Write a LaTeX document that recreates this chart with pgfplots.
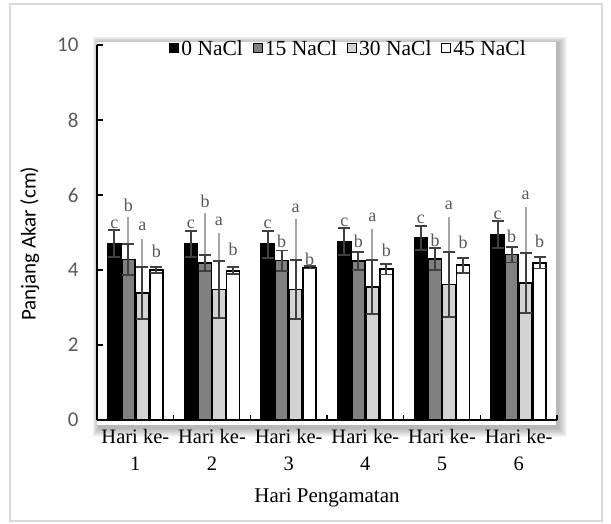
\documentclass[border=0pt]{standalone}
\usepackage{fontspec}
\setmainfont{Liberation Serif}
\newfontfamily\carlito{Carlito}
\usepackage{pgfplots}
\pgfplotsset{compat=1.18}

\definecolor{tickgray}{HTML}{595959}
\definecolor{barmid}{HTML}{808080}
\definecolor{barlight}{HTML}{D3D3D3}
\definecolor{errdark}{HTML}{404040}
\definecolor{errlight}{HTML}{A6A6A6}
\definecolor{framegray}{HTML}{D9D9D9}

% bars sit at day +- 0.274 and +- 0.091 (21pt and 7pt at 76.67pt per day)
\pgfplotsset{
  sqlegend/.style={legend image code/.code={\draw[##1, line width=1pt] (0pt,-4pt) rectangle (9pt,5pt);}},
  bar/.style={ybar, bar width=13pt, bar shift=0pt, draw=black, line width=1.6pt, fill=#1, sqlegend,
    error bars/.cd, y dir=both, y explicit,
    error bar style={errdark, line width=1.8pt},
    error mark options={errdark, line width=1.8pt, mark size=6pt, rotate=90}},
  longerr/.style={forget plot, ybar, bar width=13pt, bar shift=0pt, draw=none, fill=none,
    error bars/.cd, y dir=plus, y explicit, error mark=none,
    error bar style={errlight, line width=1.8pt}},
  letters/.style={forget plot, draw=none, mark=none, nodes near coords, point meta=explicit symbolic,
    every node near coord/.append style={anchor=center, text=tickgray,
      font=\fontsize{18}{18}\selectfont}},
}

\begin{document}
\begin{tikzpicture}
% shadow behind the plot area
\foreach \k in {1,...,9}{
  \fill[black, opacity=0.035] ({2pt-\k*0.7pt},{-8pt-\k*1pt}) rectangle ({461pt+\k*1pt},{377pt+\k*0.7pt});
}
\fill[white] (0pt,-5pt) rectangle (459pt,378pt);
\draw[framegray, line width=1.2pt] (-87pt,-101pt) rectangle (505pt,416pt);

\begin{axis}[
  at={(0pt,0pt)}, anchor=south west,
  scale only axis, width=460pt, height=375pt,
  xmin=0.5, xmax=6.5, ymin=0, ymax=10,
  axis x line*=bottom, axis y line*=left,
  axis line style={-, line width=1.6pt},
  ytick={0,2,4,6,8,10},
  ytick style={line width=1.5pt, black},
  major tick length=6pt,
  tick align=inside,
  xtick={1,2,3,4,5,6},
  xticklabels={Hari ke-\\1, Hari ke-\\2, Hari ke-\\3, Hari ke-\\4, Hari ke-\\5, Hari ke-\\6},
  major x tick style={draw=none},
  minor xtick={0.5,1.5,2.5,3.5,4.5,5.5,6.5},
  minor x tick style={line width=1.5pt, black},
  minor tick length=5pt,
  xticklabel style={align=center, font=\fontsize{20.5}{27}\selectfont, yshift=-6pt},
  yticklabel style={font=\carlito\fontsize{21}{21}\selectfont, text=tickgray, xshift=-15pt},
  /pgf/number format/assume math mode=true,
  xlabel={Hari Pengamatan},
  ylabel={Panjang Akar (cm)},
  x label style={at={(axis description cs:0.5,-0.208)}, anchor=center, font=\fontsize{21}{21}\selectfont},
  y label style={at={(axis description cs:-0.146,0.47)}, anchor=center, font=\carlito\fontsize{21}{21}\selectfont},
  legend style={draw=none, fill=none, at={(0.547,0.99)}, anchor=center,
    font=\fontsize{21.5}{21.5}\selectfont, legend columns=4,
    /tikz/every even column/.append style={column sep=8pt}},
  legend cell align=left,
  clip=false,
]

% 0 NaCl
\addplot[bar=black]
  coordinates {(0.726,4.71) +- (0,0.36) (1.726,4.69) +- (0,0.35) (2.726,4.69) +- (0,0.36)
               (3.726,4.76) +- (0,0.37) (4.726,4.86) +- (0,0.32) (5.726,4.95) +- (0,0.36)};
\addlegendentry{0 NaCl}

% 15 NaCl
\addplot[longerr]
  coordinates {(0.909,4.28) +- (0,1.14) (1.909,4.19) +- (0,1.32)};
\addplot[bar=barmid]
  coordinates {(0.909,4.28) +- (0,0.41) (1.909,4.19) +- (0,0.22) (2.909,4.25) +- (0,0.27)
               (3.909,4.24) +- (0,0.24) (4.909,4.29) +- (0,0.29) (5.909,4.41) +- (0,0.21)};
\addlegendentry{15 NaCl}

% 30 NaCl
\addplot[longerr]
  coordinates {(1.091,3.38) +- (0,1.44) (2.091,3.48) +- (0,1.50) (3.091,3.48) +- (0,1.87)
               (4.091,3.54) +- (0,1.55) (5.091,3.61) +- (0,1.81) (6.091,3.66) +- (0,2.03)};
\addplot[bar=barlight]
  coordinates {(1.091,3.38) +- (0,0.69) (2.091,3.48) +- (0,0.75) (3.091,3.48) +- (0,0.78)
               (4.091,3.54) +- (0,0.72) (5.091,3.61) +- (0,0.86) (6.091,3.66) +- (0,0.80)};
\addlegendentry{30 NaCl}

% 45 NaCl
\addplot[bar=white]
  coordinates {(1.274,4.00) +- (0,0.07) (2.274,3.98) +- (0,0.09) (3.274,4.07) +- (0,0.03)
               (4.274,4.02) +- (0,0.14) (5.274,4.13) +- (0,0.20) (6.274,4.19) +- (0,0.15)};
\addlegendentry{45 NaCl}

% significance letters
\addplot[letters] coordinates {(0.726,5.22) [c] (1.726,5.22) [c] (2.726,5.22) [c] (3.726,5.26) [c] (4.726,5.36) [c] (5.726,5.45) [c]};
\addplot[letters] coordinates {(0.909,5.73) [b] (1.909,5.82) [b] (2.909,4.76) [b] (3.909,4.76) [b] (4.909,4.80) [b] (5.909,4.91) [b]};
\addplot[letters] coordinates {(1.091,5.16) [a] (2.091,5.29) [a] (3.091,5.64) [a] (4.091,5.41) [a] (5.091,5.73) [a] (6.091,6.00) [a]};
\addplot[letters] coordinates {(1.274,4.49) [b] (2.274,4.56) [b] (3.274,4.28) [b] (4.274,4.53) [b] (5.274,4.73) [b] (6.274,4.76) [b]};
\end{axis}

\pgfresetboundingbox
\path (-97pt,-104pt) rectangle (514pt,420pt);
\end{tikzpicture}
\end{document}
